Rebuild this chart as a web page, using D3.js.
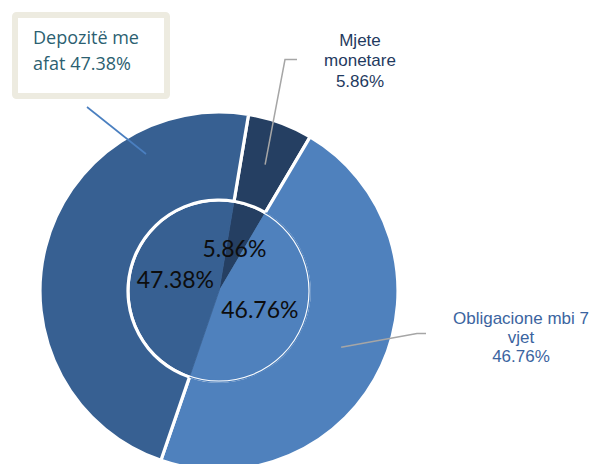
<!DOCTYPE html>
<html>
<head>
<meta charset="utf-8">
<script src="https://cdn.jsdelivr.net/npm/d3@7"></script>
<style>
  html, body { margin: 0; padding: 0; background: #ffffff; }
  svg { display: block; }
</style>
</head>
<body>
<svg id="chart" width="597" height="464"></svg>
<script>
// ---- data ----
const categories = ["Mjete monetare", "Obligacione mbi 7 vjet", "Depozitë me afat"];
const values = [5.86, 46.76, 47.38];
const valueLabels = ["5.86%", "46.76%", "47.38%"];
const outerLabelLines = [
  ["Mjete", "monetare", "5.86%"],
  ["Obligacione mbi 7", "vjet", "46.76%"],
  ["Depozitë me", "afat 47.38%"]
];
const colors = ["#253f62", "#4f81bd", "#376092"];

// ---- layout ----
const svg = d3.select("#chart");
const cx = 219, cy = 291;
const rOuter = 179, rHole = 90, rPie = 90;
const start = 9.5 * Math.PI / 180;

const pie = d3.pie().sort(null).value(d => d)
  .startAngle(start).endAngle(start + 2 * Math.PI);
const arcsData = pie(values);

const ringArc = d3.arc().innerRadius(rHole).outerRadius(rOuter);
const pieArc = d3.arc().innerRadius(0).outerRadius(rPie);
const labelArc = d3.arc().innerRadius(0).outerRadius(rPie);
const edgeArc = d3.arc().innerRadius(rPie - 0.5).outerRadius(rPie + 2.6);

const g = svg.append("g").attr("transform", `translate(${cx},${cy})`);

// outer ring
g.selectAll("path.ring").data(arcsData).enter().append("path")
  .attr("class", "ring")
  .attr("d", ringArc)
  .attr("fill", (d, i) => colors[i])
  .attr("stroke", "#ffffff")
  .attr("stroke-width", 3.2)
  .attr("stroke-linejoin", "miter");

// inner pie
const pg = g.append("g");
pg.selectAll("path.inner").data(arcsData).enter().append("path")
  .attr("class", "inner")
  .attr("d", pieArc)
  .attr("fill", (d, i) => colors[i])
  .attr("stroke", (d, i) => colors[i])
  .attr("stroke-width", 0.8);
// re-cover ring edge on the Obligacione side (same colour, so only a thin line shows)
pg.selectAll("path.cover").data(arcsData.filter((d, i) => i === 1)).enter().append("path")
  .attr("class", "cover")
  .attr("d", d3.arc().innerRadius(rPie - 1).outerRadius(rPie + 1.8))
  .attr("fill", colors[1]);
// thin light outline of the inner pie
pg.append("circle").attr("r", rPie)
  .attr("fill", "none").attr("stroke", "#ffffff").attr("stroke-width", 1.1);
// thick white edge along Depozitë / Mjete
pg.selectAll("path.edge").data(arcsData.filter((d, i) => i !== 1)).enter().append("path")
  .attr("class", "edge")
  .attr("d", edgeArc)
  .attr("fill", "#ffffff");

// inner value labels
pg.selectAll("text.val").data(arcsData).enter().append("text")
  .attr("class", "val")
  .attr("transform", d => {
    const c = labelArc.centroid(d);
    return `translate(${c[0]},${c[1]})`;
  })
  .attr("text-anchor", "middle")
  .attr("dy", "0.36em")
  .attr("font-family", "Lato, 'Open Sans', sans-serif")
  .attr("font-size", 23)
  .attr("fill", "#0d0d0d")
  .text((d, i) => valueLabels[i]);

// ---- outer callouts ----
const ringMid = d3.arc().innerRadius(rHole).outerRadius(rOuter);

// Mjete monetare (index 0)
{
  const c = ringMid.centroid(arcsData[0]);
  svg.append("polyline")
    .attr("points", `${cx + c[0]},${cy + c[1]} 285,59.5 297,59.5`)
    .attr("fill", "none").attr("stroke", "#a6a6a6").attr("stroke-width", 1.5);
  const t = svg.append("text")
    .attr("text-anchor", "middle")
    .attr("font-family", "'Liberation Sans', Arial, sans-serif")
    .attr("font-size", 17)
    .attr("fill", "#1f3a60");
  outerLabelLines[0].forEach((s, k) => {
    t.append("tspan").attr("x", 360).attr("y", 46 + k * 20.4).text(s);
  });
}

// Obligacione (index 1)
{
  const c = ringMid.centroid(arcsData[1]);
  svg.append("polyline")
    .attr("points", `${cx + c[0]},${cy + c[1]} 417,333.5 426,333.5`)
    .attr("fill", "none").attr("stroke", "#a6a6a6").attr("stroke-width", 1.5);
  const t = svg.append("text")
    .attr("text-anchor", "middle")
    .attr("font-family", "'Liberation Sans', Arial, sans-serif")
    .attr("font-size", 17)
    .attr("fill", "#3b64a0");
  outerLabelLines[1].forEach((s, k) => {
    t.append("tspan").attr("x", 521).attr("y", 324 + k * 19).text(s);
  });
}

// Depozitë me afat (index 2) - boxed callout
{
  svg.append("line")
    .attr("x1", 87).attr("y1", 107).attr("x2", 146).attr("y2", 154)
    .attr("stroke", "#4a7fc0").attr("stroke-width", 1.6);
  svg.append("rect")
    .attr("x", 15).attr("y", 15).attr("width", 152).attr("height", 81)
    .attr("rx", 1.5)
    .attr("fill", "#ffffff").attr("stroke", "#edebe0").attr("stroke-width", 6);
  const t = svg.append("text")
    .attr("font-family", "'Open Sans', sans-serif")
    .attr("font-size", 18)
    .attr("fill", "#2c5f71");
  outerLabelLines[2].forEach((s, k) => {
    t.append("tspan").attr("x", 33).attr("y", 43.5 + k * 26).text(s);
  });
}
</script>
</body>
</html>
